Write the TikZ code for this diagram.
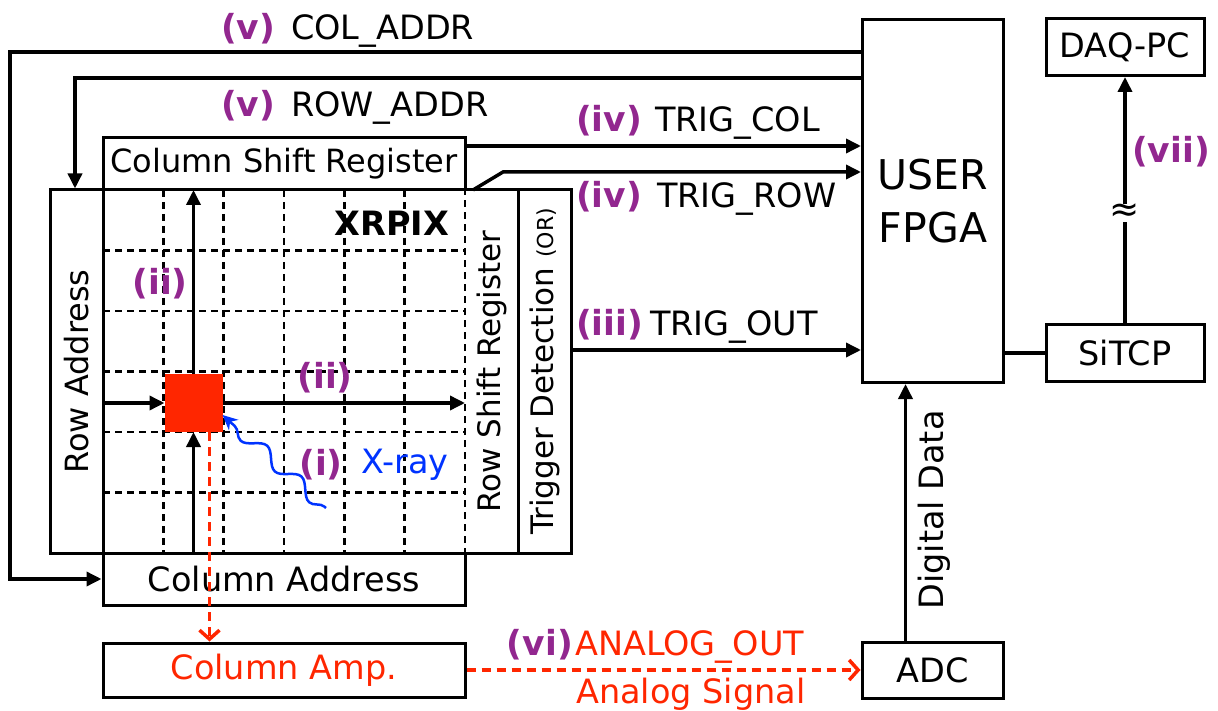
\documentclass[tikz,border=0pt]{standalone}
\usepackage{fontspec}
\setmainfont{DejaVu Sans}
\usetikzlibrary{arrows.meta,calc,decorations.pathmorphing}
\definecolor{vpurple}{RGB}{146,39,143}
\definecolor{vred}{RGB}{255,38,0}
\definecolor{vblue}{RGB}{0,51,255}
\newcommand\myfs{\fontsize{32}{38}\selectfont}
\newcommand\mylfs{\fontsize{33.5}{40}\selectfont}
\begin{document}
\begin{tikzpicture}[x=1pt,y=-1pt,
  box/.style={draw,line width=3pt,inner sep=0pt,font=\myfs},
  arr/.style={line width=3.5pt,-{Triangle[length=15pt,width=14pt]}},
  ln/.style={line width=3.5pt},
  gridl/.style={line width=2.5pt,dash pattern=on 7pt off 5pt},
  lbl/.style={font=\mylfs,inner sep=0pt},
  num/.style={font=\fontsize{34.5}{40}\selectfont\bfseries,text=vpurple,inner sep=0pt},
  redd/.style={vred,line width=3.5pt,dash pattern=on 9pt off 6pt,-{Straight Barb[length=9pt,width=20pt]}}]
\useasboundingbox (0,0) rectangle (1218,711);

% pixel array
\node[draw,gridl,minimum width=362pt,minimum height=363pt,outer sep=0pt] (grid) at (284,371.5) {};
\foreach \i in {1,...,5} {
  \draw[gridl] ($(grid.north west)!\i/6!(grid.north east)$) -- ($(grid.south west)!\i/6!(grid.south east)$);
  \draw[gridl] ($(grid.north west)!\i/6!(grid.south west)$) -- ($(grid.north east)!\i/6!(grid.south east)$);
}
\node[fill=vred,minimum width=58pt,minimum height=58pt,inner sep=0pt,outer sep=0pt] (pix) at (193.5,403) {};

% boxes
\node[box,minimum width=53pt,minimum height=363pt] (rowaddr) at (76.5,371.5) {\rotatebox{90}{Row Address}};
\node[box,minimum width=362pt,minimum height=52pt] (csr) at (284,164) {Column Shift Register};
\node[inner sep=0pt,outer sep=0pt,minimum width=53pt,minimum height=363pt,font=\fontsize{31}{37}\selectfont] (rowshift) at (491.5,371.5) {\rotatebox{90}{Row Shift Register}};
\draw[line width=3pt] (rowshift.north west) -- (rowshift.north east) -- (rowshift.south east) -- (rowshift.south west);
\node[box,minimum width=53pt,minimum height=363pt,font=\fontsize{31}{37}\selectfont] (trig) at (544.5,371.5) {\rotatebox{90}{Trigger Detection {\fontsize{22}{22}\selectfont(OR)}}};
\node[box,minimum width=362pt,minimum height=52pt,font=\mylfs] (coladdr) at (284,579) {Column Address};
\node[box,minimum width=362pt,minimum height=54pt,text=vred,font=\mylfs] (colamp) at (284,670) {Column Amp.};
\node[box,minimum width=141pt,minimum height=56pt,font=\mylfs] (adc) at (932.5,670) {ADC};
\node[box,minimum width=141pt,minimum height=363pt,align=center,font=\fontsize{41}{53}\selectfont] (fpga) at (933,201) {USER\\FPGA};
\node[box,minimum width=158pt,minimum height=57pt,font=\mylfs] (sitcp) at (1125,353) {SiTCP};
\node[box,minimum width=158pt,minimum height=57pt,font=\mylfs] (daq) at (1125,47) {DAQ-PC};

% connectors
\coordinate (ca) at (10,52);
\draw[arr] (fpga.west |- ca) -- (ca) |- (coladdr.west);
\coordinate (ra) at (75,78);
\draw[arr] (fpga.west |- ra) -- (ra) -- (ra |- rowaddr.north);
\coordinate (tc) at (700,146);
\draw[arr] (csr.east |- tc) -- (fpga.west |- tc);
\coordinate (tr) at (503,172);
\draw[arr] ([xshift=8pt]rowshift.north west) -- (tr) -- (fpga.west |- tr);
\coordinate (tro) at (700,350);
\draw[arr] (trig.east |- tro) -- (fpga.west |- tro);
\draw[ln] (fpga.east |- sitcp.west) -- (sitcp.west);
\draw[arr] (sitcp.north) -- (daq.south) node[pos=0.448,fill=white,inner sep=0pt,font=\fontsize{36}{36}\selectfont] (apx) {≈};
\draw[arr] ([xshift=-27pt]adc.north) -- ([xshift=-27pt]adc.north |- fpga.south);
\draw[redd] (colamp.east) -- (adc.west);
\draw[redd] ([xshift=16pt]pix.south) -- ([xshift=16pt]pix.south |- colamp.north);

\draw[arr] (grid.west |- pix.west) -- (pix.west);
\draw[arr] (pix.east) -- (grid.east |- pix.east);
\draw[arr] (pix.north) -- (pix.north |- grid.north);
\draw[arr] (pix.south |- grid.south) -- (pix.south);

\coordinate (xr) at (326,508);
\draw[vblue,line width=2.5pt,decorate,decoration={snake,amplitude=7pt,segment length=46pt,post length=14pt,pre length=2pt},-{Stealth[length=15pt,width=14pt]}] (xr) -- ([yshift=-12pt]pix.east);

% labels
\node[num,anchor=base west] (v1) at (221,40) {(v)};
\node[lbl,anchor=base west] (l1) at (291,40) {COL\_ADDR};
\node[num,anchor=base west] (v2) at (221,117) {(v)};
\node[lbl,anchor=base west] (l2) at (291,117) {ROW\_ADDR};
\node[num,anchor=base west] (iv1) at (576,132) {(iv)};
\node[lbl,anchor=base west] (l3) at (655,132) {TRIG\_COL};
\node[num,anchor=base west] (iv2) at (576,208) {(iv)};
\node[lbl,anchor=base west] (l4) at (657,208) {TRIG\_ROW};
\node[num,anchor=base west] (iii) at (576,335) {(iii)};
\node[lbl,anchor=base west] (l5) at (650,335) {TRIG\_OUT};
\node[num,anchor=base east] (vi) at (573,655) {(vi)};
\node[lbl,anchor=base west,text=vred] (l6) at (575,655) {ANALOG\_OUT};
\node[lbl,anchor=base west,text=vred] (l7) at (576,703) {Analog Signal};
\node[num] (vii) at (1171,152) {(vii)};
\node[lbl] (dd) at (934,510) {\rotatebox{90}{Digital Data}};
\node[num] (ii1) at (160,284) {(ii)};
\node[num] (ii2) at (325,378) {(ii)};
\node[num] (i1) at (321,465) {(i)};
\node[lbl,text=vblue] (xl) at (405,465) {X-ray};
\node[lbl,font=\mylfs\bfseries] (xrpix) at (392,223) {XRPIX};
\end{tikzpicture}
\end{document}
